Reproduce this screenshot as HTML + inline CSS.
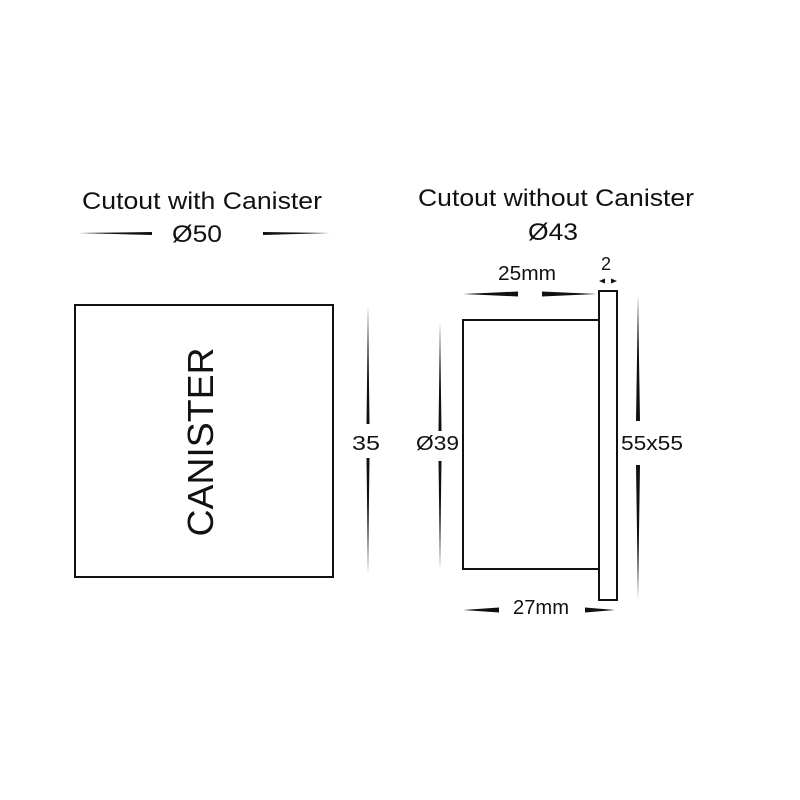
<!DOCTYPE html>
<html><head><style>
body{margin:0;background:#fff;}
svg{display:block}
text{font-family:"Liberation Sans",Arial,sans-serif;fill:#111}
</style></head><body>
<svg width="800" height="800" viewBox="0 0 800 800">
<text x="82" y="209" font-size="24" textLength="240" lengthAdjust="spacingAndGlyphs">Cutout with Canister</text>
<text x="172" y="242" font-size="24" textLength="50" lengthAdjust="spacingAndGlyphs">Ø50</text>
<polygon points="78,233 152,232 152,235" fill="#111"/>
<polygon points="263,232 330,233 263,235" fill="#111"/>
<text x="418" y="206" font-size="24" textLength="276" lengthAdjust="spacingAndGlyphs">Cutout without Canister</text>
<text x="528" y="240" font-size="24" textLength="50" lengthAdjust="spacingAndGlyphs">Ø43</text>

<rect x="75" y="305" width="258" height="272" fill="none" stroke="#111" stroke-width="2"/>
<text transform="translate(213,442) rotate(-90)" font-size="36" text-anchor="middle" textLength="189" lengthAdjust="spacingAndGlyphs">CANISTER</text>

<polygon points="368,305 366.5,424 369.5,424" fill="#111"/>
<polygon points="368,575 366.5,458 369.5,458" fill="#111"/>
<text x="352" y="450" font-size="20" textLength="28" lengthAdjust="spacingAndGlyphs">35</text>

<polygon points="440,322 438.5,431 441.5,431" fill="#111"/>
<polygon points="440,570 438.5,461 441.5,461" fill="#111"/>
<text x="416" y="450" font-size="20" textLength="43" lengthAdjust="spacingAndGlyphs">Ø39</text>

<polygon points="638,295 636,421 640,421" fill="#111"/>
<polygon points="638,600 636,465 640,465" fill="#111"/>
<text x="621" y="450" font-size="20" textLength="62" lengthAdjust="spacingAndGlyphs">55x55</text>

<rect x="463" y="320" width="136" height="249" fill="none" stroke="#111" stroke-width="2"/>
<rect x="599" y="291" width="18" height="309" fill="#fff" stroke="#111" stroke-width="2"/>

<text x="498" y="280" font-size="20" textLength="58" lengthAdjust="spacingAndGlyphs">25mm</text>
<polygon points="463,294 518,291.5 518,296.5" fill="#111"/>
<polygon points="597,294 542,291.5 542,296.5" fill="#111"/>
<text x="606" y="270" font-size="18" text-anchor="middle">2</text>
<polygon points="599,281 605,278.5 605,283.5" fill="#111"/>
<polygon points="617,281 611,278.5 611,283.5" fill="#111"/>

<text x="513" y="614" font-size="20" textLength="56" lengthAdjust="spacingAndGlyphs">27mm</text>
<polygon points="463,610 499,607.5 499,612.5" fill="#111"/>
<polygon points="615,610 585,607.5 585,612.5" fill="#111"/>
</svg>
</body></html>
